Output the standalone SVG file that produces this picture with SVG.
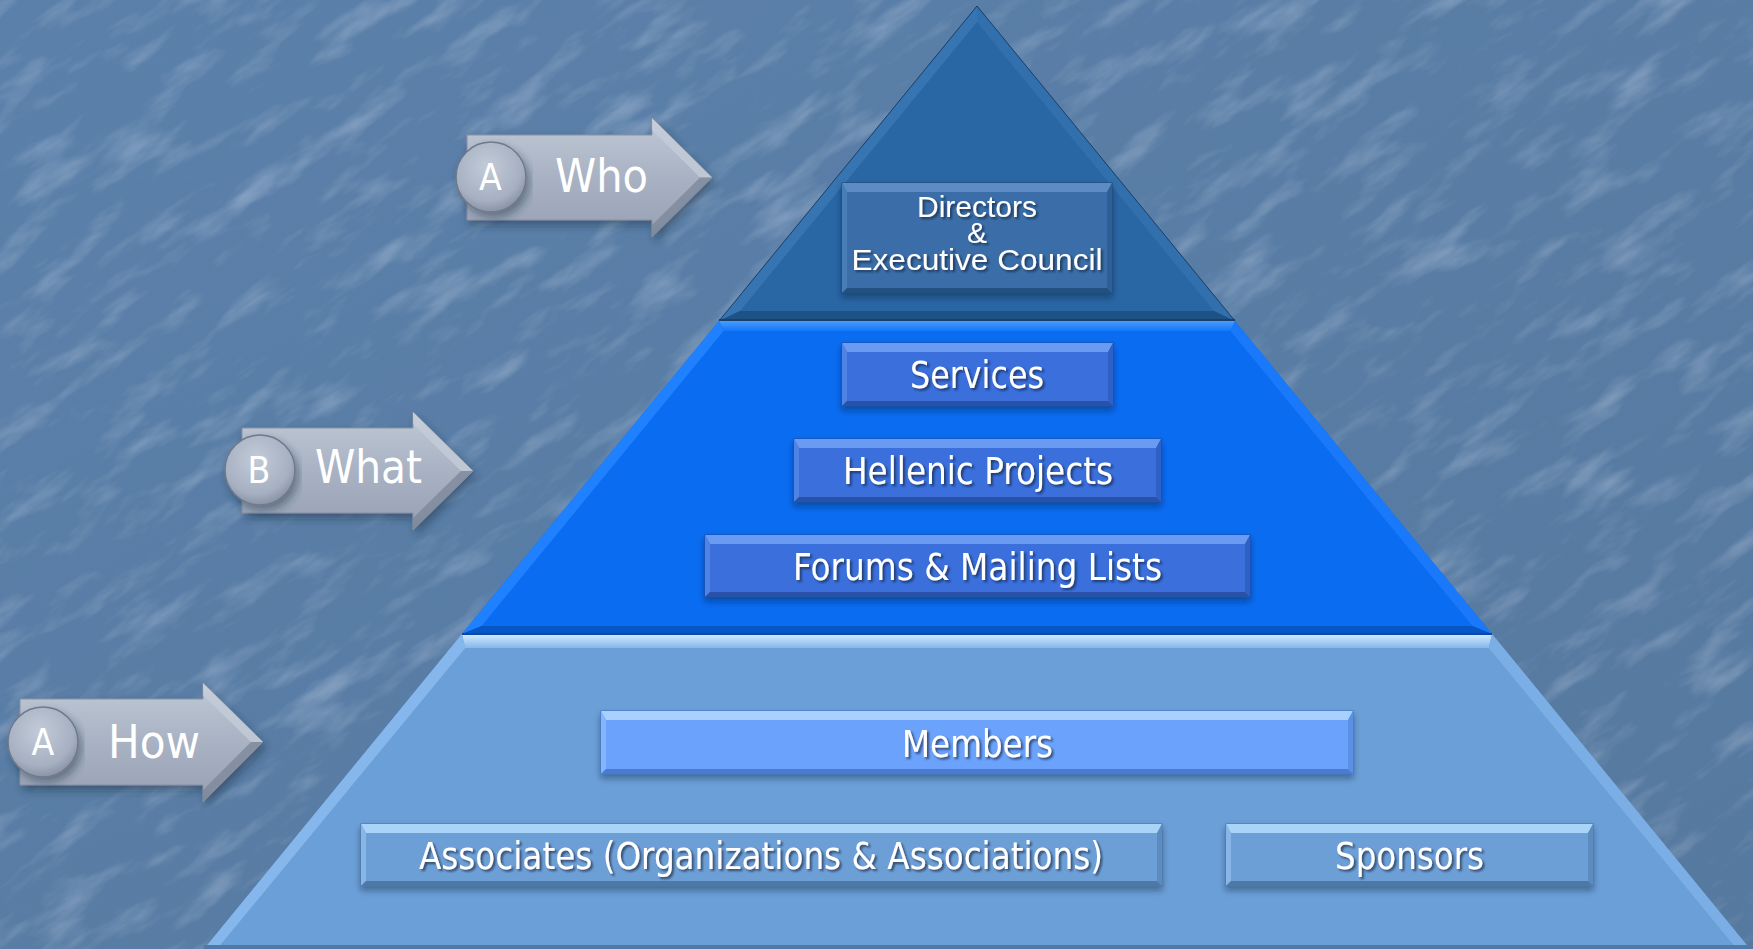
<svg xmlns="http://www.w3.org/2000/svg" width="1753" height="949" viewBox="0 0 1753 949">
<style>
.lbl{font-family:"DejaVu Sans Condensed","DejaVu Sans",Tahoma,sans-serif;font-size:37px;fill:#fff;text-anchor:start;filter:url(#tsh)}
.arl{font-family:"DejaVu Sans Condensed","DejaVu Sans",Tahoma,sans-serif;fill:#fff}
.dir{font-family:"Liberation Sans",Arial,sans-serif;font-size:30px;fill:#fff;text-anchor:middle;filter:url(#tsh)}
.bx{filter:url(#bsh)}
.dk{stroke:#1e3f66;stroke-width:1;fill:none}
</style>
<defs>
<filter id="tex" x="-800" y="-900" width="3600" height="3200" filterUnits="userSpaceOnUse">
<feTurbulence type="fractalNoise" baseFrequency="0.012 0.04" numOctaves="4" seed="7"/>
<feColorMatrix type="matrix" values="0 0 0 0 0.85  0 0 0 0 0.9  0 0 0 0 1  2.2 0 0 0 -1.1"/>
</filter>
<filter id="tsh" x="-10%" y="-30%" width="120%" height="160%">
<feDropShadow dx="2" dy="2" stdDeviation="1" flood-color="#0a1a33" flood-opacity="0.65"/>
</filter>
<filter id="bsh" x="-5%" y="-20%" width="110%" height="150%">
<feDropShadow dx="0" dy="4" stdDeviation="3" flood-color="#0a1a33" flood-opacity="0.4"/>
</filter>
<filter id="ash" x="-10%" y="-20%" width="120%" height="150%">
<feDropShadow dx="3" dy="5" stdDeviation="4" flood-color="#1a2a40" flood-opacity="0.45"/>
</filter>
<linearGradient id="arrowG" x1="0" y1="0" x2="0" y2="1">
<stop offset="0" stop-color="#dde3ec"/>
<stop offset="0.14" stop-color="#b9c2d0"/>
<stop offset="0.5" stop-color="#a8b2c3"/>
<stop offset="0.88" stop-color="#9ba5b7"/>
<stop offset="1" stop-color="#7c879a"/>
</linearGradient>
<radialGradient id="circG" cx="0.45" cy="0.35" r="0.7">
<stop offset="0" stop-color="#c3cbd8"/>
<stop offset="0.7" stop-color="#a6b0c1"/>
<stop offset="1" stop-color="#808b9e"/>
</radialGradient>
<linearGradient id="botTop" x1="0" y1="0" x2="0" y2="1">
<stop offset="0" stop-color="#d4ebff"/>
<stop offset="1" stop-color="#86b7ea"/>
</linearGradient>
<linearGradient id="midTop" x1="0" y1="0" x2="0" y2="1">
<stop offset="0" stop-color="#4a9cff"/>
<stop offset="1" stop-color="#1277f8"/>
</linearGradient>
<linearGradient id="bgG" x1="0" y1="0" x2="1" y2="1">
<stop offset="0" stop-color="#5b80aa"/>
<stop offset="1" stop-color="#56799f"/>
</linearGradient>
</defs>

<g id="background">
<rect x="0" y="0" width="1753" height="949" fill="url(#bgG)"/>
<g transform="rotate(-35 876 474)" opacity="0.3">
<rect x="-800" y="-900" width="3600" height="3200" fill="#fff" filter="url(#tex)"/>
</g>
</g>

<g id="pyramid">
<g id="tier-bottom">
<polygon points="462,634 1492,634 1750,949 204,949" fill="#6b9fd7"/>
<polygon points="462,634 1492,634 1488.8,648 465.2,648" fill="url(#botTop)"/>
<polygon points="462,634 465.2,648 217,949 204,949" fill="#86b7ec"/>
<polygon points="1492,634 1488.8,648 1737,949 1750,949" fill="#7caee6"/>
<rect x="204" y="945" width="1546" height="4" fill="#4f7aa8"/>
</g>
<g id="tier-middle">
<polygon points="719,321 1235,321 1492,634 462,634" fill="#0a6cf0"/>
<polygon points="719,321 1235,321 1230.5,331 723.5,331" fill="url(#midTop)"/>
<polygon points="719,321 723.5,331 481.6,626 462,634" fill="#1f81ff"/>
<polygon points="1235,321 1230.5,331 1472.4,626 1492,634" fill="#1a79fa"/>
<polygon points="462,634 1492,634 1472.4,626 481.6,626" fill="#0756c6"/>
<line x1="462" y1="634" x2="1492" y2="634" stroke="#0a48a8" stroke-width="2"/>
</g>
<g id="tier-top">
<polygon points="977,6 1235,321 719,321" fill="#2966a4"/>
<polygon points="977,6 719,321 740,311 977,22" fill="#3674b2"/>
<polygon points="977,6 1235,321 1214,311 977,22" fill="#3170ad"/>
<polygon points="719,321 1235,321 1214,311 740,311" fill="#1f5284"/>
<polyline points="719,321 977,6 1235,321" class="dk"/>
<line x1="719" y1="320" x2="1235" y2="320" stroke="#17406a" stroke-width="2"/>
</g>
</g>

<g id="connectors"></g>

<g id="node-directors" class="bx">
<rect x="842" y="183" width="270" height="110" fill="#3a6ea8" stroke="#1f4670" stroke-width="1"/>
<polygon points="842,183 1112,183 1107,192 847,192" fill="#5b8cc3"/>
<polygon points="842,183 847,192 847,288 842,293" fill="#4a7db6"/>
<polygon points="1112,183 1107,192 1107,288 1112,293" fill="#2f6098"/>
<polygon points="842,293 1112,293 1107,288 847,288" fill="#24517f"/>
<text class="dir" x="977" y="217">Directors</text>
<text class="dir" x="977" y="243">&amp;</text>
<text class="dir" x="977" y="270" textLength="251" lengthAdjust="spacingAndGlyphs">Executive Council</text>
</g>

<g id="node-services" class="bx">
<rect x="842" y="343" width="271" height="63" fill="#3a6fdc" stroke="#2448a0" stroke-width="1"/>
<polygon points="842,343 1113,343 1108,352 847,352" fill="#6b9bf2"/>
<polygon points="842,343 847,352 847,401 842,406" fill="#5083e6"/>
<polygon points="1113,343 1108,352 1108,401 1113,406" fill="#2f60c6"/>
<polygon points="842,406 1113,406 1108,401 847,401" fill="#2a51a8"/>
<text class="lbl" x="910" y="388" textLength="134" lengthAdjust="spacingAndGlyphs">Services</text>
</g>

<g id="node-hellenic" class="bx">
<rect x="794" y="439" width="367" height="63" fill="#3a6fdc" stroke="#2448a0" stroke-width="1"/>
<polygon points="794,439 1161,439 1156,448 799,448" fill="#6b9bf2"/>
<polygon points="794,439 799,448 799,497 794,502" fill="#5083e6"/>
<polygon points="1161,439 1156,448 1156,497 1161,502" fill="#2f60c6"/>
<polygon points="794,502 1161,502 1156,497 799,497" fill="#2a51a8"/>
<text class="lbl" x="843" y="484" textLength="270" lengthAdjust="spacingAndGlyphs">Hellenic Projects</text>
</g>

<g id="node-forums" class="bx">
<rect x="705" y="535" width="545" height="62" fill="#3a6fdc" stroke="#2448a0" stroke-width="1"/>
<polygon points="705,535 1250,535 1245,544 710,544" fill="#6b9bf2"/>
<polygon points="705,535 710,544 710,592 705,597" fill="#5083e6"/>
<polygon points="1250,535 1245,544 1245,592 1250,597" fill="#2f60c6"/>
<polygon points="705,597 1250,597 1245,592 710,592" fill="#2a51a8"/>
<text class="lbl" x="793" y="580" textLength="369" lengthAdjust="spacingAndGlyphs">Forums &amp; Mailing Lists</text>
</g>

<g id="node-members" class="bx">
<rect x="601" y="711" width="752" height="63" fill="#6aa2fc" stroke="#3f6fc0" stroke-width="1"/>
<polygon points="601,711 1353,711 1348,720 606,720" fill="#a9d1ff"/>
<polygon points="601,711 606,720 606,769 601,774" fill="#84b6ff"/>
<polygon points="1353,711 1348,720 1348,769 1353,774" fill="#5a90e6"/>
<polygon points="601,774 1353,774 1348,769 606,769" fill="#4a7bd0"/>
<text class="lbl" x="902" y="757" textLength="151" lengthAdjust="spacingAndGlyphs">Members</text>
</g>

<g id="node-associates" class="bx">
<rect x="361" y="824" width="801" height="62" fill="#6d9fd7" stroke="#46709e" stroke-width="1"/>
<polygon points="361,824 1162,824 1157,833 366,833" fill="#aad3f8"/>
<polygon points="361,824 366,833 366,881 361,886" fill="#88b6e6"/>
<polygon points="1162,824 1157,833 1157,881 1162,886" fill="#5c8bc0"/>
<polygon points="361,886 1162,886 1157,881 366,881" fill="#4d78a8"/>
<text class="lbl" x="419" y="869" textLength="684" lengthAdjust="spacingAndGlyphs">Associates (Organizations &amp; Associations)</text>
</g>

<g id="node-sponsors" class="bx">
<rect x="1226" y="824" width="367" height="62" fill="#6d9fd7" stroke="#46709e" stroke-width="1"/>
<polygon points="1226,824 1593,824 1588,833 1231,833" fill="#aad3f8"/>
<polygon points="1226,824 1231,833 1231,881 1226,886" fill="#88b6e6"/>
<polygon points="1593,824 1588,833 1588,881 1593,886" fill="#5c8bc0"/>
<polygon points="1226,886 1593,886 1588,881 1231,881" fill="#4d78a8"/>
<text class="lbl" x="1335" y="869" textLength="149" lengthAdjust="spacingAndGlyphs">Sponsors</text>
</g>

<g id="arrow-who">
<path d="M467,135 L652,135 L652,118 L712,177.5 L652,237 L652,220 L467,220 Z" fill="url(#arrowG)" stroke="#8690a2" stroke-width="1" filter="url(#ash)"/>
<path d="M652,118 L712,177.5 L700,177.5 L652,130 Z" fill="#c4ccd8" opacity="0.8"/>
<path d="M652,237 L712,177.5 L700,177.5 L652,225 Z" fill="#7d889b" opacity="0.8"/>
<circle cx="491" cy="177" r="35" fill="url(#circG)" stroke="#6e798c" stroke-width="1.5" filter="url(#ash)"/>
<text class="arl" x="490.5" y="190" font-size="37" text-anchor="middle">A</text>
<text class="arl" x="555" y="192" font-size="46" textLength="93" lengthAdjust="spacingAndGlyphs">Who</text>
</g>

<g id="arrow-what">
<path d="M242,428 L413,428 L413,412 L473,471 L413,530 L413,513 L242,513 Z" fill="url(#arrowG)" stroke="#8690a2" stroke-width="1" filter="url(#ash)"/>
<path d="M413,412 L473,471 L461,471 L413,424 Z" fill="#c4ccd8" opacity="0.8"/>
<path d="M413,530 L473,471 L461,471 L413,518 Z" fill="#7d889b" opacity="0.8"/>
<circle cx="260" cy="470" r="35" fill="url(#circG)" stroke="#6e798c" stroke-width="1.5" filter="url(#ash)"/>
<text class="arl" x="259" y="483" font-size="37" text-anchor="middle">B</text>
<text class="arl" x="315" y="483" font-size="46" textLength="107" lengthAdjust="spacingAndGlyphs">What</text>
</g>

<g id="arrow-how">
<path d="M20,699 L203,699 L203,683 L263,742 L203,802 L203,785 L20,785 Z" fill="url(#arrowG)" stroke="#8690a2" stroke-width="1" filter="url(#ash)"/>
<path d="M203,683 L263,742 L251,742 L203,695 Z" fill="#c4ccd8" opacity="0.8"/>
<path d="M203,802 L263,742 L251,742 L203,790 Z" fill="#7d889b" opacity="0.8"/>
<circle cx="43" cy="742" r="35" fill="url(#circG)" stroke="#6e798c" stroke-width="1.5" filter="url(#ash)"/>
<text class="arl" x="43" y="755" font-size="37" text-anchor="middle">A</text>
<text class="arl" x="108" y="758" font-size="46" textLength="92" lengthAdjust="spacingAndGlyphs">How</text>
</g>
</svg>
